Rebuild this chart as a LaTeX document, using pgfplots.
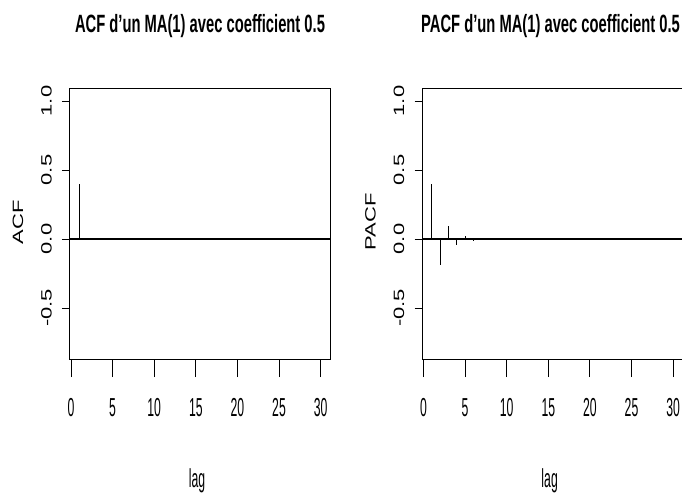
\documentclass[border=0pt]{standalone}
\usepackage{fontspec}
\setmainfont{Liberation Sans}
\usepackage{graphicx}
\usepackage{pgfplots}
\pgfplotsset{compat=1.18}

% the reference is squeezed horizontally, so the text is too
\newcommand{\ttl}[1]{\scalebox{0.59}[1]{\fontsize{25}{25}\selectfont\bfseries #1}}
\newcommand{\xl}[1]{\scalebox{0.47}[1]{\fontsize{26}{26}\selectfont #1}}
\newcommand{\yl}[1]{\scalebox{0.68}[1]{\rotatebox{90}{\fontsize{22}{22}\selectfont #1}}}

\pgfplotsset{
  rplot/.style={
    width=260pt, height=271pt, scale only axis,
    xmin=-0.12, xmax=31.13, ymin=-0.877, ymax=1.087,
    axis line style={black, line width=1pt},
    xtick={0,5,10,15,20,25,30},
    xticklabels={\xl{0},\xl{5},\xl{10},\xl{15},\xl{20},\xl{25},\xl{30}},
    ytick={-0.5,0,0.5,1},
    yticklabels={\yl{-0.5},\yl{0.0},\yl{0.5},\yl{1.0}},
    tick align=outside, xtick pos=bottom, ytick pos=left,
    major tick length=8pt,
    x tick style={/pgfplots/major tick length=17pt},
    tick style={black, line width=0.9pt},
    xticklabel style={anchor=base, yshift=-48pt},
    yticklabel style={anchor=center, xshift=-15.5pt},
    every axis y label/.style={at={(axis description cs:0,0.509)}, anchor=center, xshift=-52pt},
    every axis x label/.style={at={(axis description cs:0.489,0)}, anchor=base, yshift=-128pt},
    every axis title/.style={at={(axis description cs:0.5,1)}, anchor=base, yshift=56pt},
    xlabel={\xl{lag}},
  },
}

\begin{document}
\begin{tikzpicture}[x=1pt,y=1pt]
\useasboundingbox (0,0) rectangle (682,497);

\begin{axis}[rplot, at={(70pt,137pt)}, anchor=south west,
  title={\ttl{ACF d'un MA(1) avec coefficient 0.5}},
  ylabel={\yl{ACF}}]
\addplot[black, line width=1.3pt] coordinates {(-0.12,0) (31.13,0)};
\addplot[ycomb, black, line width=0.8pt, no markers] coordinates {
  (1,0.4) (2,0) (3,0) (4,0) (5,0) (6,0) (7,0) (8,0) (9,0) (10,0)
  (11,0) (12,0) (13,0) (14,0) (15,0) (16,0) (17,0) (18,0) (19,0) (20,0)
  (21,0) (22,0) (23,0) (24,0) (25,0) (26,0) (27,0) (28,0) (29,0) (30,0)};
\end{axis}

\begin{axis}[rplot, at={(422.5pt,137pt)}, anchor=south west,
  title={\ttl{PACF d'un MA(1) avec coefficient 0.5}},
  title style={xshift=-2pt},
  ylabel={\yl{PACF}}]
\addplot[black, line width=1.3pt] coordinates {(-0.12,0) (31.13,0)};
\addplot[ycomb, black, line width=0.8pt, no markers] coordinates {
  (1,0.400) (2,-0.190) (3,0.094) (4,-0.047) (5,0.023) (6,-0.012)
  (7,0.006) (8,-0.003) (9,0.001) (10,-0.001) (11,0) (12,0) (13,0)
  (14,0) (15,0) (16,0) (17,0) (18,0) (19,0) (20,0) (21,0) (22,0)
  (23,0) (24,0) (25,0) (26,0) (27,0) (28,0) (29,0) (30,0)};
\end{axis}
\end{tikzpicture}
\end{document}
